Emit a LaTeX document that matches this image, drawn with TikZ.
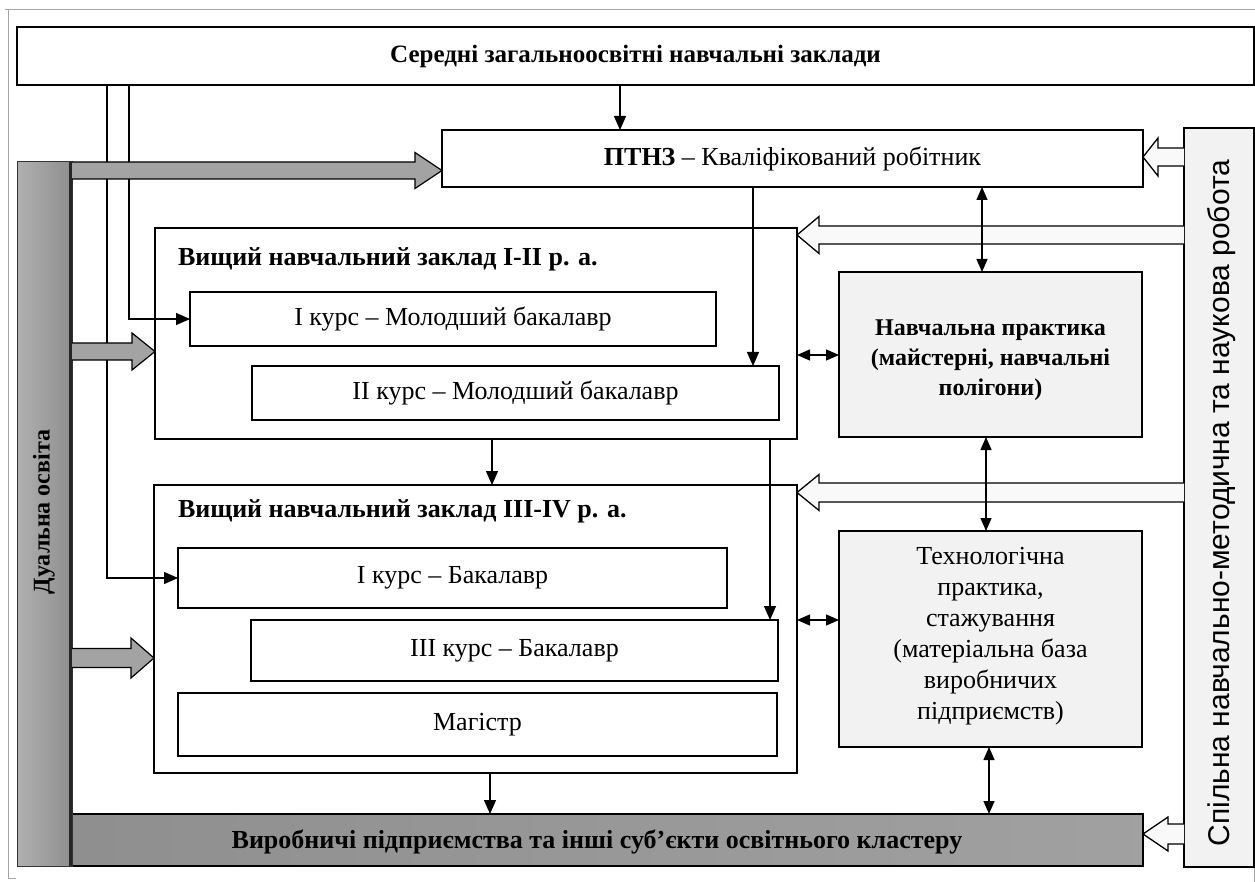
\documentclass[tikz,border=0pt]{standalone}
\usepackage{fontspec}
\setmainfont{Liberation Serif}
\newfontfamily\colsans{Liberation Sans}
\usetikzlibrary{arrows.meta}

% font size helper
\newcommand\fs[2]{\fontsize{#1}{#2}\selectfont}
% block arrow: from x, base of head x, tip x, axis y, half shaft, half head, style
\newcommand\blockarrow[7]{%
  \draw[#7] (#1,#4-#5) -- (#2,#4-#5) -- (#2,#4-#6) -- (#3,#4)
    -- (#2,#4+#6) -- (#2,#4+#5) -- (#1,#4+#5);}

\begin{document}
\begin{tikzpicture}[x=1pt,y=-1pt,
  every node/.style={inner sep=0pt, outer sep=0pt},
  box/.style={draw, line width=1.4pt, fill=white},
  practice/.style={draw, line width=1.4pt, fill=gray!10},
  txt/.style={font=\fs{26}{30}},
  btxt/.style={font=\fs{26}{30}\bfseries},
  arr/.style={-{Triangle[length=14pt,width=12pt]}, line width=1.3pt},
  dbl/.style={{Triangle[length=13pt,width=11pt]}-{Triangle[length=13pt,width=11pt]}, line width=1.3pt},
  graybar/.style={draw=black, line width=1.2pt, fill=gray!72},
  hollow/.style={draw=black, line width=1.3pt, fill=gray!5},
]
\path[use as bounding box] (0,0) rectangle (1255,882);

% thin outer frame
\draw[gray!70, line width=0.6pt] (5,9) -- (1255,9);
\draw[gray!70, line width=0.6pt] (8,9) -- (8,878) -- (16,878);
\draw[gray!70, line width=0.6pt] (1254,867) -- (1254,882);

% top level
\node[box, font=\fs{25}{30}\bfseries, minimum width=1237pt, minimum height=58pt] (school) at (635.5,56)
  {Середні загальноосвітні навчальні заклади};
\node[box, txt, minimum width=701pt, minimum height=57pt] (ptnz) at (792.5,158.5)
  {\textbf{ПТНЗ} – Кваліфікований робітник};

% higher education, levels I-II
\node[box, minimum width=642pt, minimum height=211pt] (vnz1) at (476,333.5) {};
\node[btxt, anchor=west] (vnz1title) at (178,259)
  {Вищий навчальний заклад I-II р. а.};
\node[box, txt, minimum width=526pt, minimum height=54pt] (jb1) at (453,319)
  {I курс – Молодший бакалавр};
\node[box, txt, minimum width=527pt, minimum height=54pt] (jb2) at (515.5,393)
  {II курс – Молодший бакалавр};

% higher education, levels III-IV
\node[box, minimum width=643pt, minimum height=288pt] (vnz2) at (475.5,629) {};
\node[btxt, anchor=west] (vnz2title) at (178,511)
  {Вищий навчальний заклад III-IV р. а.};
\node[box, txt, minimum width=549pt, minimum height=60pt] (b1) at (452.5,578)
  {I курс – Бакалавр};
\node[box, txt, minimum width=527pt, minimum height=61pt] (b3) at (514.5,650.5)
  {III курс – Бакалавр};
\node[box, txt, minimum width=599pt, minimum height=63pt] (mag) at (477.5,724.5)
  {Магістр};

% practice blocks
\node[practice, minimum width=303pt, minimum height=165pt] (nav) at (990.5,354.5) {};
\node[align=center, font=\fs{24}{30}\bfseries] (navtext) at (990.5,360)
  {Навчальна практика\\(майстерні, навчальні\\полігони)};
\node[practice, minimum width=303pt, minimum height=216pt] (tech) at (990.5,639) {};
\node[align=center, font=\fs{26}{31}] (techtext) at (990.5,636)
  {Технологічна\\практика,\\стажування\\(матеріальна база\\виробничих\\підприємств)};

% right column
\node[practice, minimum width=70pt, minimum height=739pt] (joint) at (1219,497.5) {};
\node[rotate=90, font=\colsans\fs{30}{32}] (jointtext) at (1222,503)
  {Спільна навчально-методична та наукова робота};

% bottom bar
\node[draw, line width=1.4pt, minimum width=1071pt, minimum height=52pt,
      shade, left color=gray!88, right color=gray!74] (plants) at (607.5,840) {};
\node[btxt] (plantstext) at (597,842)
  {Виробничі підприємства та інші суб’єкти освітнього кластеру};

% dual education column
\node[draw=black!80, line width=1pt, minimum width=55pt, minimum height=704pt,
      shade, left color=gray!62, right color=gray!88] (dual) at (44.5,514) {};
\draw[line width=3pt, black!85] (70.5,162) -- (70.5,866);
\node[rotate=90, font=\fs{24}{28}\bfseries] (dualtext) at (44,512)
  {Дуальна освіта};

% thin connectors
\coordinate (xa) at (620,0);
\coordinate (xb) at (753,0);
\coordinate (xc) at (129,0);
\coordinate (xd) at (107,0);
\coordinate (xe) at (492,0);
\coordinate (xf) at (770,0);
\coordinate (xg) at (490,0);
\draw[arr] (school.south -| xa) -- (ptnz.north -| xa);
\draw[arr] (ptnz.south -| xb) -- (jb2.north -| xb);
\draw[arr] (school.south -| xc) |- (jb1.west);
\draw[arr] (school.south -| xd) |- (b1.west);
\draw[arr] (vnz1.south -| xe) -- (vnz2.north -| xe);
\draw[arr] (vnz1.south -| xf) -- (b3.north -| xf);
\draw[arr] (vnz2.south -| xg) -- (plants.north -| xg);

% wide arrows of dual education
\blockarrow{72}{415}{442}{170.5}{8.5}{18}{graybar}
\blockarrow{72}{132}{155}{351.5}{8.5}{18.5}{graybar}
\blockarrow{72}{131}{154}{658}{9.5}{20}{graybar}

% hollow arrows of joint work
\blockarrow{1184}{1158}{1143}{157}{9}{19}{hollow}
\blockarrow{1184}{819}{797}{235}{9}{18.5}{hollow}
\blockarrow{1184}{819}{797}{492.5}{9.5}{18}{hollow}
\blockarrow{1184}{1168}{1143}{834}{10}{17}{hollow}

% two-way links with practice
\coordinate (xh) at (982,0);
\coordinate (xi) at (986,0);
\coordinate (xj) at (989,0);
\coordinate (yk) at (0,355);
\coordinate (yl) at (0,620);
\draw[dbl] (ptnz.south -| xh) -- (nav.north -| xh);
\draw[dbl] (nav.south -| xi) -- (tech.north -| xi);
\draw[dbl] (tech.south -| xj) -- (plants.north -| xj);
\draw[dbl] (vnz1.east |- yk) -- (nav.west |- yk);
\draw[dbl] (vnz2.east |- yl) -- (tech.west |- yl);
\end{tikzpicture}
\end{document}
